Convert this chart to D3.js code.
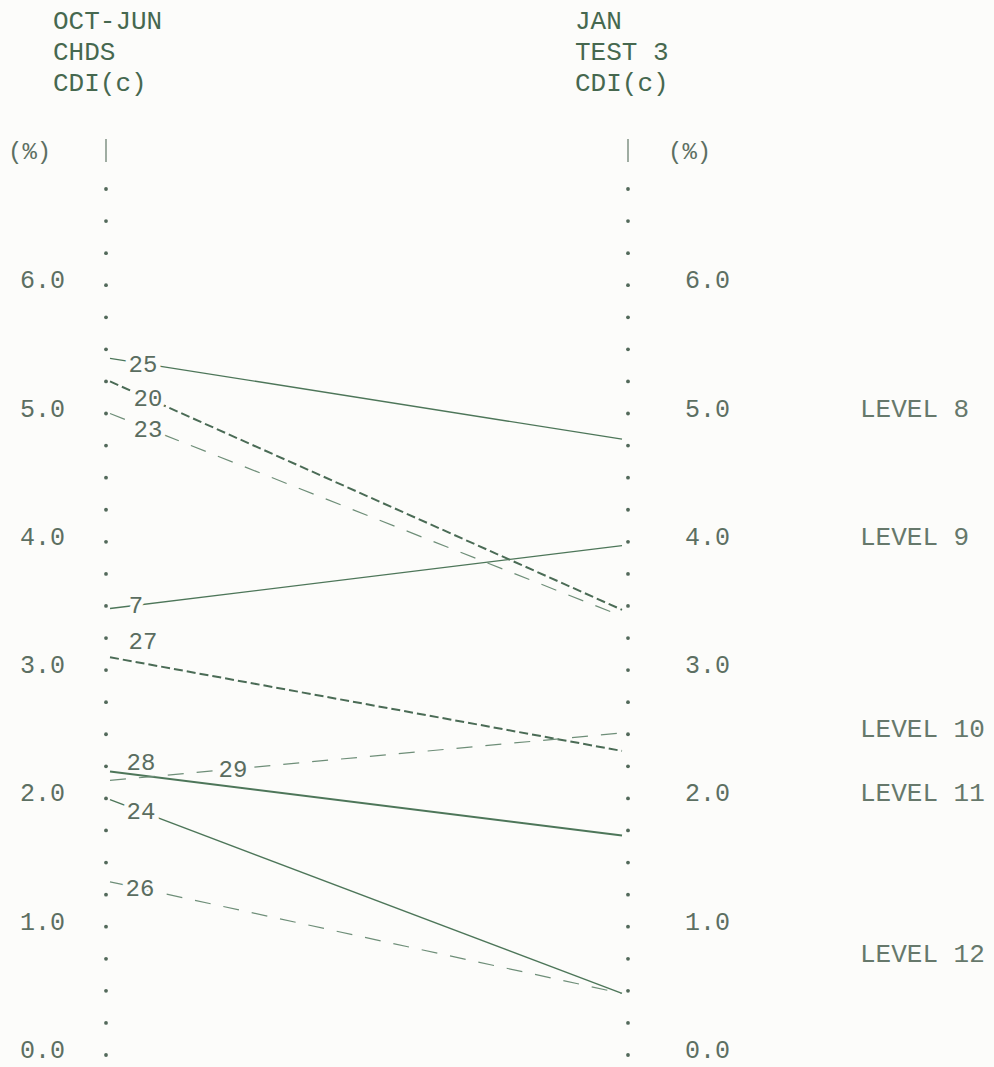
<!DOCTYPE html>
<html>
<head>
<meta charset="utf-8">
<script src="https://cdn.jsdelivr.net/npm/d3@7"></script>
<style>
  html, body { margin: 0; padding: 0; background: #fcfcfa; }
  svg { display: block; }
  text { font-family: "Liberation Mono", "DejaVu Sans Mono", monospace; }
</style>
</head>
<body>
<svg id="chart" width="994" height="1067"></svg>
<script>
// ---- data ----
const columns = ["OCT-JUN CHDS", "JAN TEST 3"];
const leftHeader = ["OCT-JUN", "CHDS", "CDI(c)"];
const rightHeader = ["JAN", "TEST 3", "CDI(c)"];
const unitLabel = "(%)";
const tickValues = [0, 1, 2, 3, 4, 5, 6];
const tickLabels = ["0.0", "1.0", "2.0", "3.0", "4.0", "5.0", "6.0"];

const seriesNames = ["25", "20", "23", "7", "27", "28", "29", "24", "26"];
const octJunValues = [5.43, 5.25, 5.0, 3.48, 3.10, 2.21, 2.14, 1.99, 1.35];
const janTest3Values = [4.80, 3.47, 3.42, 3.97, 2.37, 1.71, 2.51, 0.48, 0.48];
const seriesDash = ["solid", "short", "long", "solid", "short", "solid", "long", "solid", "long"];

const levelLabels = ["LEVEL 8", "LEVEL 9", "LEVEL 10", "LEVEL 11", "LEVEL 12"];
const levelValues = [5.0, 4.0, 2.5, 2.0, 0.75];

// ---- layout (kept apart from data) ----
const labelLayout = {
  "25": {x: 143, above: 0},
  "20": {x: 148, above: 0},
  "23": {x: 148, above: 0},
  "7":  {x: 136, above: 0},
  "27": {x: 143, above: 22},
  "28": {x: 141, above: 13},
  "29": {x: 233, above: 0},
  "24": {x: 141, above: 0},
  "26": {x: 140, above: 0}
};

const svg = d3.select("#chart");
const x = d3.scalePoint().domain(columns).range([106, 628]);
const y = d3.scaleLinear().domain([0, 7]).range([1055, 1055 - 7 * 128.3]);

const textCol = "#5c6f62";
const headCol = "#46684f";

// headers
const headerRows = [29, 60, 91];
svg.append("g").selectAll("text").data(leftHeader).join("text")
  .attr("x", 53).attr("y", (d, i) => headerRows[i])
  .attr("font-size", 26).attr("fill", headCol).text(d => d);
svg.append("g").selectAll("text").data(rightHeader).join("text")
  .attr("x", 575).attr("y", (d, i) => headerRows[i])
  .attr("font-size", 26).attr("fill", headCol).text(d => d);

// unit labels and axis top bars
svg.append("text").attr("x", 8).attr("y", y(7) + 2).attr("font-size", 24)
  .attr("fill", textCol).text(unitLabel);
svg.append("text").attr("x", 668).attr("y", y(7) + 2).attr("font-size", 24)
  .attr("fill", textCol).text(unitLabel);
columns.forEach(c => {
  svg.append("line").attr("x1", x(c)).attr("x2", x(c))
    .attr("y1", y(7) - 18).attr("y2", y(7) + 5)
    .attr("stroke", "#6d8273").attr("stroke-width", 1.3);
});

// axis dots
const dotVals = d3.range(0, 6.76, 0.25);
columns.forEach(c => {
  svg.append("g").selectAll("circle").data(dotVals).join("circle")
    .attr("cx", x(c)).attr("cy", d => y(d)).attr("r", 1.9)
    .attr("fill", "#52695a");
});

// tick labels
svg.append("g").selectAll("text").data(tickValues).join("text")
  .attr("x", 20).attr("y", d => y(d) + 3).attr("font-size", 25)
  .attr("fill", textCol).text((d, i) => tickLabels[i]);
svg.append("g").selectAll("text").data(tickValues).join("text")
  .attr("x", 685).attr("y", d => y(d) + 3).attr("font-size", 25)
  .attr("fill", textCol).text((d, i) => tickLabels[i]);

// level labels
svg.append("g").selectAll("text").data(levelValues).join("text")
  .attr("x", 860).attr("y", d => y(d) + 3).attr("font-size", 26)
  .attr("fill", "#66786b").text((d, i) => levelLabels[i]);

// lines
const x0 = x(columns[0]) + 4, x1 = x(columns[1]) - 6;
const dashStyle = {
  solid: {dash: null, w: 1.4, col: "#4d7659"},
  short: {dash: "9,4", w: 2.0, col: "#4a6b55"},
  long:  {dash: "16,13", w: 1.2, col: "#6e8e78"}
};
const lineGen = d3.line().x(d => d[0]).y(d => d[1]);
const lines = seriesNames.map((n, i) => ({
  name: n, a: octJunValues[i], b: janTest3Values[i], style: seriesDash[i]
}));
svg.append("g").selectAll("path").data(lines).join("path")
  .attr("d", d => lineGen([[x0, y(d.a)], [x1, y(d.b)]]))
  .attr("fill", "none")
  .attr("stroke", d => dashStyle[d.style].col)
  .attr("stroke-width", d => d.name === "28" ? 2.0 : dashStyle[d.style].w)
  .attr("stroke-dasharray", d => dashStyle[d.style].dash);

// series labels on lines
svg.append("g").selectAll("text").data(lines).join("text")
  .attr("x", d => labelLayout[d.name].x)
  .attr("y", d => {
    const lx = labelLayout[d.name].x;
    const t = (lx - x0) / (x1 - x0);
    const ly = y(d.a) + t * (y(d.b) - y(d.a));
    return ly + 8 - labelLayout[d.name].above;
  })
  .attr("text-anchor", "middle")
  .attr("font-size", 24)
  .attr("fill", "#5a6d60")
  .attr("stroke", d => labelLayout[d.name].above ? "none" : "#fcfcfa")
  .attr("stroke-width", 9)
  .attr("paint-order", "stroke")
  .text(d => d.name);
</script>
</body>
</html>
